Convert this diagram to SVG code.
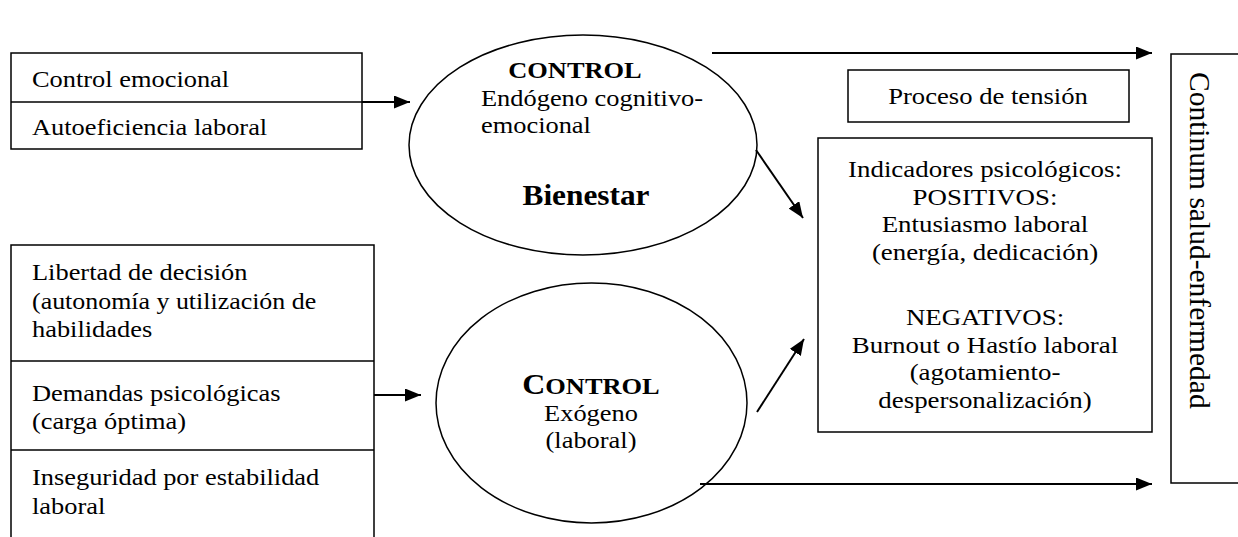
<svg xmlns="http://www.w3.org/2000/svg" width="1238" height="537" viewBox="0 0 1238 537">
<defs>
<style>
text{font-family:"Liberation Serif","Times New Roman",serif;fill:#000;font-size:24px}
.b{font-weight:bold}
.c{text-anchor:middle}
.box{fill:#fff;stroke:#000;stroke-width:1.5}
.ln{fill:none;stroke:#000;stroke-width:1.5}
.conn line{stroke:#000;stroke-width:2;marker-end:url(#ah)}
</style>
<marker id="ah" viewBox="0 0 16 13" refX="16" refY="6.5" markerUnits="userSpaceOnUse" markerWidth="16" markerHeight="13" orient="auto">
<path d="M0,0 L16,6.5 L0,13 z" fill="#000"/>
</marker>
</defs>
<rect width="1238" height="537" fill="#fff"/>

<g id="endogenous-inputs">
<rect class="box" x="11" y="53" width="351" height="96"/>
<line class="ln" x1="11" y1="102" x2="362" y2="102"/>
<text transform="translate(32 87) scale(1.1 1)">Control emocional</text>
<text transform="translate(32 135) scale(1.1 1)">Autoeficiencia laboral</text>
</g>

<g id="exogenous-inputs">
<path class="ln" d="M11,537 V245 H374 V537"/>
<line class="ln" x1="11" y1="361" x2="374" y2="361"/>
<line class="ln" x1="11" y1="450" x2="374" y2="450"/>
<text transform="translate(32 280) scale(1.1 1)">Libertad de decisión</text>
<text transform="translate(32 309) scale(1.08 1)">(autonomía y utilización de</text>
<text transform="translate(32 337) scale(1.1 1)">habilidades</text>
<text transform="translate(32 401) scale(1.1 1)">Demandas psicológicas</text>
<text transform="translate(32 429) scale(1.1 1)">(carga óptima)</text>
<text transform="translate(32 485) scale(1.1 1)">Inseguridad por estabilidad</text>
<text transform="translate(32 514) scale(1.1 1)">laboral</text>
</g>

<g id="control-endogeno">
<ellipse class="box" cx="583" cy="145" rx="174" ry="110"/>
<text class="b c" transform="translate(575 78) scale(1.1 1)">CONTROL</text>
<text transform="translate(481 106) scale(1.1 1)">Endógeno cognitivo-</text>
<text transform="translate(481 133) scale(1.1 1)">emocional</text>
<text class="b c" transform="translate(586 205) scale(1.1 1)" style="font-size:28.5px">Bienestar</text>
</g>

<g id="control-exogeno">
<ellipse class="box" cx="591.5" cy="403" rx="155.5" ry="120"/>
<text class="b c" transform="translate(591 394) scale(1.1 1)"><tspan style="font-size:29px">C</tspan><tspan style="font-size:24px">ONTROL</tspan></text>
<text class="c" transform="translate(591 421) scale(1.1 1)">Exógeno</text>
<text class="c" transform="translate(591 448) scale(1.1 1)">(laboral)</text>
</g>

<g id="proceso-tension">
<rect class="box" x="848" y="70" width="281" height="52"/>
<text class="c" transform="translate(988 104) scale(1.11 1)">Proceso de tensión</text>
</g>

<g id="indicadores">
<rect class="box" x="818" y="138" width="334" height="294"/>
<text class="c" transform="translate(985 177) scale(1.12 1)">Indicadores psicológicos:</text>
<text class="c" transform="translate(985 205) scale(1.12 1)">POSITIVOS:</text>
<text class="c" transform="translate(985 232) scale(1.12 1)">Entusiasmo laboral</text>
<text class="c" transform="translate(985 260) scale(1.12 1)">(energía, dedicación)</text>
<text class="c" transform="translate(985 325) scale(1.12 1)">NEGATIVOS:</text>
<text class="c" transform="translate(985 353) scale(1.12 1)">Burnout o Hastío laboral</text>
<text class="c" transform="translate(985 380) scale(1.12 1)">(agotamiento-</text>
<text class="c" transform="translate(985 408) scale(1.12 1)">despersonalización)</text>
</g>

<g id="continuum">
<rect class="box" x="1171" y="54" width="90" height="429"/>
<text transform="translate(1190,72) rotate(90)" style="font-size:29.5px">Continum salud-enfermedad</text>
</g>

<g id="connectors" class="conn">
<line x1="362" y1="102" x2="410" y2="102"/>
<line x1="374" y1="395" x2="421" y2="395"/>
<line x1="712" y1="53" x2="1152" y2="53"/>
<line x1="756" y1="150" x2="803" y2="218"/>
<line x1="757" y1="412" x2="804" y2="339"/>
<line x1="700" y1="484" x2="1152" y2="484"/>
</g>
</svg>
